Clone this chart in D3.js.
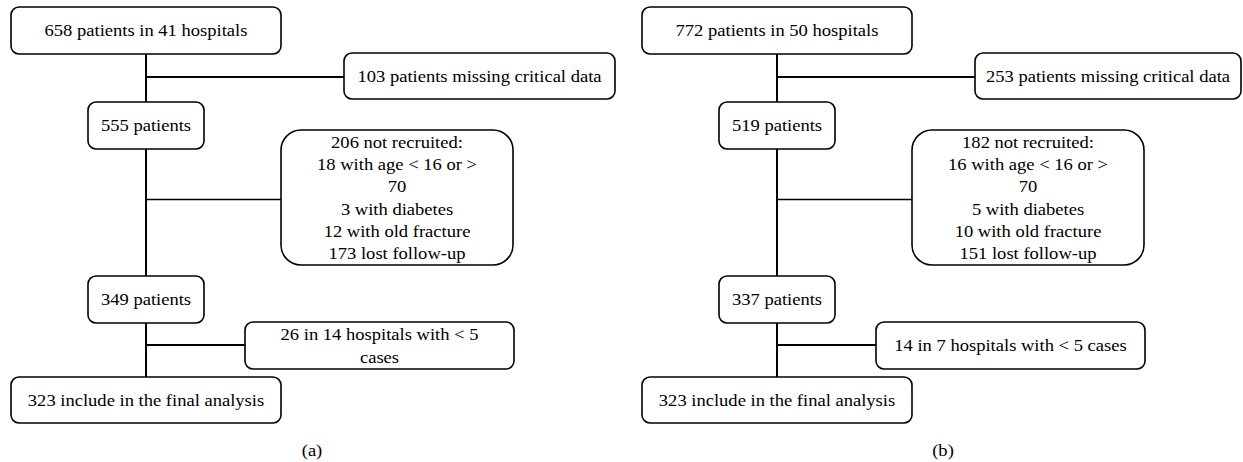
<!DOCTYPE html>
<html><head><meta charset="utf-8">
<script src="https://cdn.jsdelivr.net/npm/d3@7"></script>
<style>body{margin:0;background:#fff}svg{display:block}</style>
</head><body><svg id="c" width="1243" height="462"></svg>
<script>
// ---- data ----
const panels = ["(a)", "(b)"];
const stagesA = ["658 patients in 41 hospitals", "555 patients", "349 patients", "323 include in the final analysis"];
const stagesB = ["772 patients in 50 hospitals", "519 patients", "337 patients", "323 include in the final analysis"];
const exclusionsA = [
  ["103 patients missing critical data"],
  ["206 not recruited:", "18 with age < 16 or >", "70", "3 with diabetes", "12 with old fracture", "173 lost follow-up"],
  ["26 in 14 hospitals with < 5", "cases"]
];
const exclusionsB = [
  ["253 patients missing critical data"],
  ["182 not recruited:", "16 with age < 16 or >", "70", "5 with diabetes", "10 with old fracture", "151 lost follow-up"],
  ["14 in 7 hospitals with < 5 cases"]
];

// ---- layout ----
const W = 1243, H = 462;
const svg = d3.select("#c");
const FONT = "'Liberation Serif', 'Times New Roman', serif";
const FS = 17;
const LH = 22.3;

// horizontal stretch so the serif face matches the reference's wider glyphs
const probe = svg.append("text").attr("font-family", FONT).attr("font-size", FS).text(stagesA[0]);
const sx = 203 / probe.node().getComputedTextLength();
probe.remove();

const px = d3.scaleBand().domain(panels).range([11, 11 + 2 * 631]);
const stageGeom = [
  {dx: 0, w: 270, y: 7, h: 47},
  {dx: 77, w: 116, y: 102, h: 47},
  {dx: 77, w: 116, y: 276, h: 47},
  {dx: 0, w: 270, y: 377, h: 46}
];
const exclGeom = [
  {dx: 333, w: 271, y: 53, h: 46, r: 8, cy: 77, sw: 2},
  {dx: 270, w: 232, y: 130, h: 135, r: 20, cy: 199.5, sw: 1.3},
  {dx: 234, w: 269, y: 322, h: 47, r: 8, cy: 345, sw: 2}
];
const spineDx = 135;

function drawLines(g, lines, cx, cy) {
  const n = lines.length;
  lines.forEach((t, i) => {
    const ty = cy + (i - (n - 1) / 2) * LH;
    g.append("text")
      .attr("transform", `translate(${cx},${ty}) scale(${sx},1)`)
      .attr("text-anchor", "middle")
      .attr("dy", "0.35em")
      .attr("font-family", FONT)
      .attr("font-size", FS)
      .attr("fill", "#000")
      .text(t);
  });
}

function drawBox(g, x, y, w, h, r) {
  g.append("rect")
    .attr("x", x).attr("y", y).attr("width", w).attr("height", h)
    .attr("rx", r).attr("ry", r)
    .attr("fill", "#fff").attr("stroke", "#000").attr("stroke-width", 1.6);
}

panels.forEach((p, pi) => {
  const x0 = px(p);
  const stages = pi === 0 ? stagesA : stagesB;
  const excl = pi === 0 ? exclusionsA : exclusionsB;
  const g = svg.append("g");
  const sxl = x0 + spineDx;

  // spine
  g.append("line")
    .attr("x1", sxl).attr("x2", sxl)
    .attr("y1", stageGeom[0].y + stageGeom[0].h).attr("y2", stageGeom[3].y)
    .attr("stroke", "#000").attr("stroke-width", 2);

  // exclusion branches
  excl.forEach((lines, i) => {
    const e = exclGeom[i];
    const bx = x0 + e.dx;
    const bw = Math.min(e.w, W - 2 - bx);
    g.append("line")
      .attr("x1", sxl).attr("x2", bx)
      .attr("y1", e.cy).attr("y2", e.cy)
      .attr("stroke", "#000").attr("stroke-width", e.sw);
    drawBox(g, bx, e.y, bw, e.h, e.r);
    drawLines(g, lines, bx + bw / 2, e.y + e.h / 2);
  });

  // main stages
  stages.forEach((t, i) => {
    const s = stageGeom[i];
    drawBox(g, x0 + s.dx, s.y, s.w, s.h, 8);
    drawLines(g, [t], x0 + s.dx + s.w / 2, s.y + s.h / 2);
  });

  // panel label
  drawLines(g, [p], x0 + 301, 450);
});
</script></body></html>
